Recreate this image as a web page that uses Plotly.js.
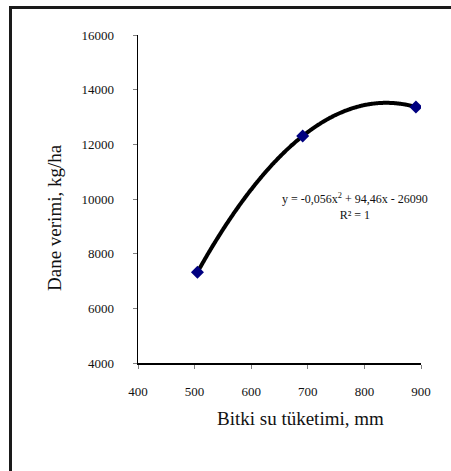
<!DOCTYPE html>
<html>
<head>
<meta charset="utf-8">
<script src="https://cdn.plot.ly/plotly-3.0.1.min.js"></script>
<style>
  html, body { margin: 0; padding: 0; background: #fff; }
  #wrap { position: relative; width: 451px; height: 471px; overflow: hidden; }
  #chart { width: 451px; height: 471px; }
  #frame { position: absolute; left: 9px; top: 6px; width: 600px; height: 600px;
           border-top: 3px solid #1a1a1a; border-left: 3px solid #1a1a1a; pointer-events: none; }
</style>
</head>
<body>
<div id="wrap">
  <div id="chart"></div>
  <div id="frame"></div>
</div>
<script>
// Data
const waterUse = [505, 691, 891];          // Bitki su tüketimi, mm
const grainYield = [7320, 12305, 13366];   // Dane verimi, kg/ha
const xTicks = [400, 500, 600, 700, 800, 900];
const yTicks = [4000, 6000, 8000, 10000, 12000, 14000, 16000];
const xTitle = 'Bitki su tüketimi, mm';
const yTitle = 'Dane verimi, kg/ha';
const equationText = 'y = -0,056x<sup>2</sup> + 94,46x - 26090<br>R² = 1';

// Second-order polynomial trendline fitted to the data (least squares)
function polyFit2(xs, ys) {
  let S = [[0,0,0],[0,0,0],[0,0,0]], b = [0,0,0];
  for (let k = 0; k < xs.length; k++) {
    const p = [1, xs[k], xs[k]*xs[k]];
    for (let i = 0; i < 3; i++) {
      b[i] += p[i]*ys[k];
      for (let j = 0; j < 3; j++) S[i][j] += p[i]*p[j];
    }
  }
  for (let i = 0; i < 3; i++) {
    let m = i;
    for (let r = i+1; r < 3; r++) if (Math.abs(S[r][i]) > Math.abs(S[m][i])) m = r;
    [S[i], S[m]] = [S[m], S[i]]; [b[i], b[m]] = [b[m], b[i]];
    for (let r = i+1; r < 3; r++) {
      const f = S[r][i]/S[i][i];
      for (let c = i; c < 3; c++) S[r][c] -= f*S[i][c];
      b[r] -= f*b[i];
    }
  }
  const c = [0,0,0];
  for (let i = 2; i >= 0; i--) {
    let s = b[i];
    for (let j = i+1; j < 3; j++) s -= S[i][j]*c[j];
    c[i] = s/S[i][i];
  }
  return c;
}
const coef = polyFit2(waterUse, grainYield);
const trendX = [], trendY = [];
const x0 = Math.min(...waterUse), x1 = Math.max(...waterUse);
for (let i = 0; i <= 200; i++) {
  const x = x0 + (x1 - x0) * i / 200;
  trendX.push(x);
  trendY.push(coef[0] + coef[1]*x + coef[2]*x*x);
}

const font = 'Liberation Serif, Times New Roman, serif';
const W = 451, H = 471, ML = 138, MR = 30, MT = 35, MB = 108;
const pw = W - ML - MR, ph = H - MT - MB;
const px = (x) => (x - ML) / pw;          // pixel -> paper x
const py = (y) => (H - MB - y) / ph;      // pixel -> paper y

const traces = [
  { x: trendX, y: trendY, type: 'scatter', mode: 'lines',
    line: { color: '#000000', width: 4, shape: 'spline', smoothing: 1 }, hoverinfo: 'skip', showlegend: false },
  { x: waterUse, y: grainYield, type: 'scatter', mode: 'markers',
    marker: { symbol: 'diamond', size: 10, color: '#000080', line: { width: 0 } }, showlegend: false }
];

const layout = {
  width: W, height: H,
  margin: { l: ML, r: MR, t: MT, b: MB },
  paper_bgcolor: '#ffffff', plot_bgcolor: '#ffffff',
  font: { family: font, color: '#000000', size: 13 },
  showlegend: false,
  xaxis: {
    range: [400, 900], tickvals: xTicks, ticktext: xTicks.map(String),
    showgrid: false, zeroline: false,
    showline: true, linecolor: '#000000', linewidth: 1.5,
    ticks: 'outside', ticklen: 4, tickcolor: '#808080', tickwidth: 1,
    ticklabelstandoff: 12,
    tickfont: { family: font, size: 13, color: '#111111' }
  },
  yaxis: {
    range: [4000, 16000], tickvals: yTicks, ticktext: yTicks.map(String),
    showgrid: false, zeroline: false,
    showline: true, linecolor: '#000000', linewidth: 1.5,
    ticks: 'outside', ticklen: 4, tickcolor: '#808080', tickwidth: 1,
    ticklabelstandoff: 16,
    tickfont: { family: font, size: 13, color: '#111111' }
  },
  annotations: [
    { xref: 'paper', yref: 'paper', showarrow: false,
      x: px(355), y: py(206), xanchor: 'center', yanchor: 'middle',
      text: equationText, font: { family: font, size: 12, color: '#111111' }, align: 'center' },
    { xref: 'paper', yref: 'paper', showarrow: false,
      x: px(300), y: py(418), xanchor: 'center', yanchor: 'middle',
      text: xTitle, font: { family: font, size: 19, color: '#111111' } },
    { xref: 'paper', yref: 'paper', showarrow: false, textangle: -90,
      x: px(55), y: py(218), xanchor: 'center', yanchor: 'middle',
      text: yTitle, font: { family: font, size: 19, color: '#111111' } }
  ]
};

Plotly.newPlot('chart', traces, layout, { staticPlot: true, displayModeBar: false });
</script>
</body>
</html>
